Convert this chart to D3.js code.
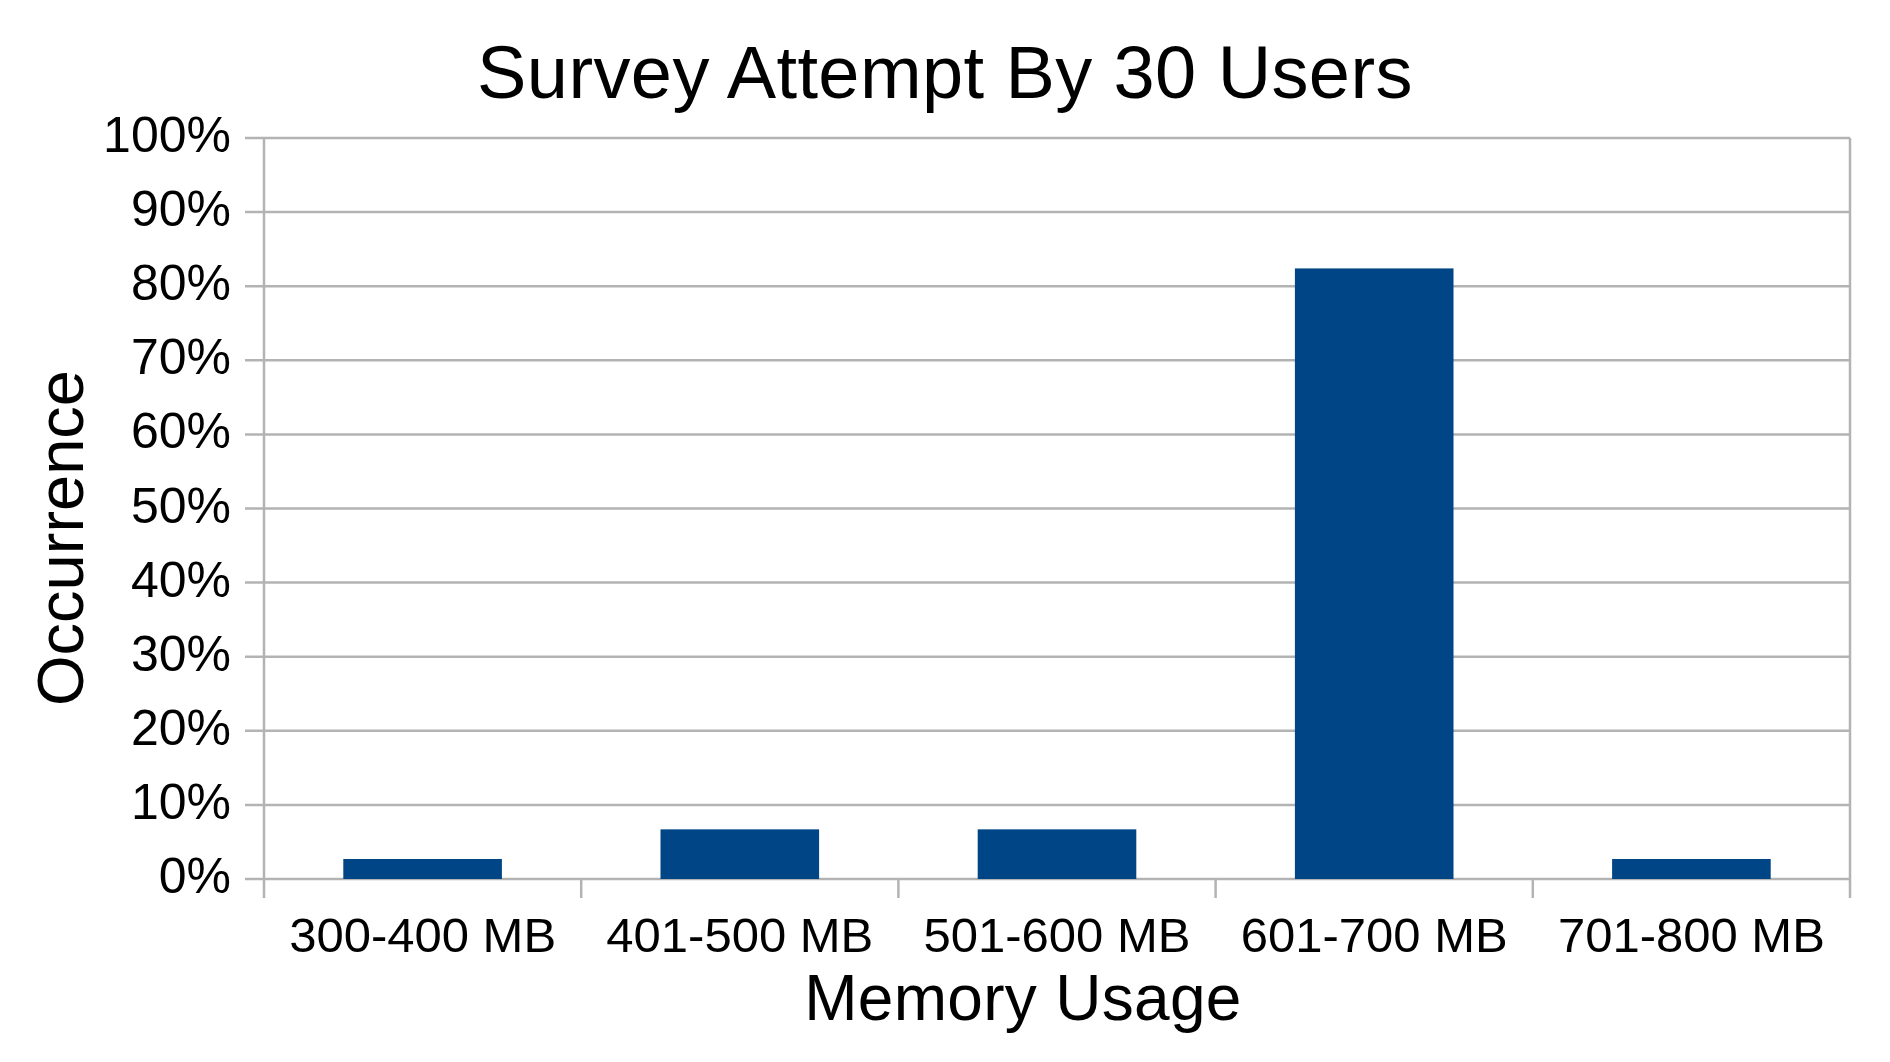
<!DOCTYPE html>
<html>
<head>
<meta charset="utf-8">
<script src="https://cdn.jsdelivr.net/npm/d3@7"></script>
<style>
    body { margin: 0; background: #fff; }
    text { font-family: "Liberation Sans", Arial, sans-serif; fill: #000; }
</style>
</head>
<body>
<svg id="chart" width="1890" height="1062"></svg>
<script>
const categories = ["300-400 MB", "401-500 MB", "501-600 MB", "601-700 MB", "701-800 MB"];
const occurrence = [2.7, 6.7, 6.7, 82.4, 2.7];
const yTicks = [0, 10, 20, 30, 40, 50, 60, 70, 80, 90, 100];

const svg = d3.select("#chart"),
      width = +svg.attr("width"),
      height = +svg.attr("height");

const margin = { top: 138, right: 40, bottom: 183, left: 264 };
const plotW = width - margin.left - margin.right,
      plotH = height - margin.top - margin.bottom;

const gridColor = "#b3b3b3";
const tickLen = 19;

const x = d3.scaleBand()
    .domain(categories)
    .range([margin.left, margin.left + plotW])
    .paddingInner(0.5)
    .paddingOuter(0.25);

const y = d3.scaleLinear()
    .domain([0, 100])
    .range([margin.top + plotH, margin.top]);

// horizontal grid lines, extended left as ticks
svg.append("g")
    .selectAll("line")
    .data(yTicks)
    .join("line")
    .attr("x1", margin.left - tickLen)
    .attr("x2", margin.left + plotW)
    .attr("y1", d => y(d))
    .attr("y2", d => y(d))
    .attr("stroke", gridColor)
    .attr("stroke-width", 2.5);

// category boundaries: ticks below the axis, outer ones also frame the plot
const bounds = d3.range(categories.length + 1).map(i => x.range()[0] + i * x.step());
svg.append("g")
    .selectAll("line")
    .data(bounds)
    .join("line")
    .attr("x1", d => d)
    .attr("x2", d => d)
    .attr("y1", (d, i) => (i === 0 || i === categories.length) ? y(100) : y(0))
    .attr("y2", y(0) + tickLen)
    .attr("stroke", gridColor)
    .attr("stroke-width", 2.5);

// bars
svg.append("g")
    .selectAll("rect")
    .data(categories)
    .join("rect")
    .attr("x", d => x(d))
    .attr("width", x.bandwidth())
    .attr("y", (d, i) => y(occurrence[i]))
    .attr("height", (d, i) => y(0) - y(occurrence[i]))
    .attr("fill", "#004586");

// y tick labels
const yAxis = d3.axisLeft(y)
    .tickValues(yTicks)
    .tickSize(0)
    .tickPadding(0)
    .tickFormat(d => d + "%");

const gy = svg.append("g")
    .attr("transform", `translate(${margin.left - 33},0)`)
    .call(yAxis);
gy.select(".domain").remove();
gy.selectAll("text")
    .attr("dy", "0.27em")
    .style("font-size", "50px")
    .style("font-family", "'Liberation Sans', Arial, sans-serif")
    .attr("fill", "#000");

// x tick labels
const xAxis = d3.axisBottom(x).tickSize(0).tickPadding(0);
const gx = svg.append("g")
    .attr("transform", `translate(0,${y(0)})`)
    .call(xAxis);
gx.select(".domain").remove();
gx.selectAll("text")
    .attr("y", 73)
    .attr("dy", 0)
    .style("font-size", "49px")
    .style("font-family", "'Liberation Sans', Arial, sans-serif")
    .attr("fill", "#000");

// titles
svg.append("text")
    .attr("x", 945)
    .attr("y", 98)
    .attr("text-anchor", "middle")
    .style("font-size", "74px")
    .style("letter-spacing", "0.4px")
    .text("Survey Attempt By 30 Users");

svg.append("text")
    .attr("x", 1023)
    .attr("y", 1020)
    .attr("text-anchor", "middle")
    .style("font-size", "64px")
    .style("letter-spacing", "0.3px")
    .text("Memory Usage");

svg.append("text")
    .attr("transform", "translate(83,538) rotate(-90)")
    .attr("text-anchor", "middle")
    .style("font-size", "65px")
    .text("Occurrence");
</script>
</body>
</html>
